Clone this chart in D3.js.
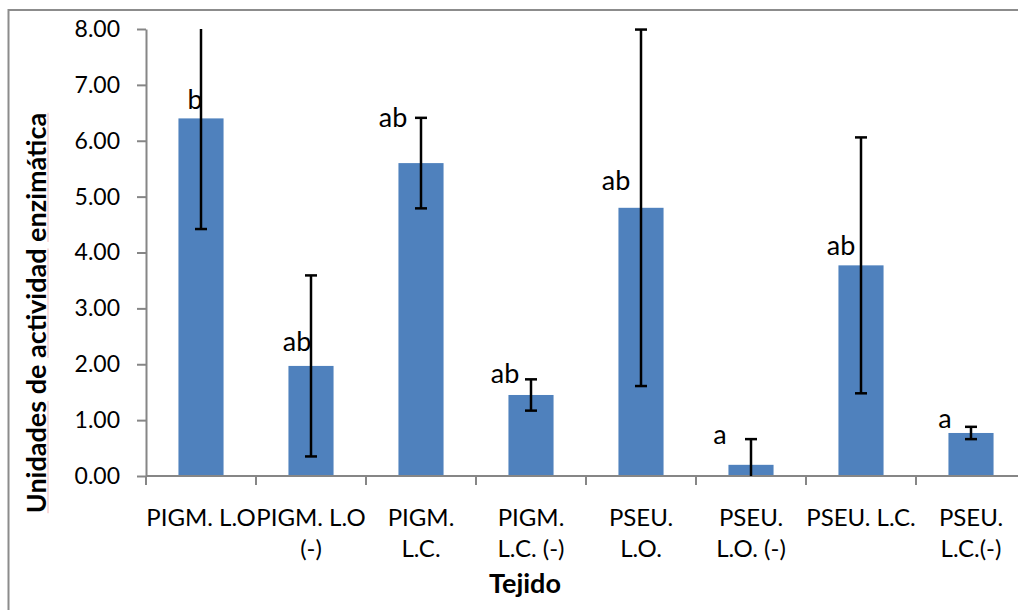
<!DOCTYPE html>
<html>
<head>
<meta charset="utf-8">
<script src="https://cdn.jsdelivr.net/npm/d3@7"></script>
<style>
  html, body { margin: 0; padding: 0; background: #fff; overflow: hidden; }
  svg { display: block; }
  text { font-family: Lato, "Open Sans", sans-serif; fill: #000; }
</style>
</head>
<body>
<div id="chart"></div>
<script>
// Categories (each entry split into its wrapped lines)
const categories = [
  ['PIGM. L.O'],
  ['PIGM. L.O', '(-)'],
  ['PIGM.', 'L.C.'],
  ['PIGM.', 'L.C. (-)'],
  ['PSEU.', 'L.O.'],
  ['PSEU.', 'L.O. (-)'],
  ['PSEU. L.C.'],
  ['PSEU.', 'L.C.(-)'],
];
const means = [6.40, 1.97, 5.60, 1.45, 4.80, 0.20, 3.77, 0.77];
const errors = [1.98, 1.62, 0.81, 0.28, 3.19, 0.46, 2.29, 0.11];
const letters = ['b', 'ab', 'ab', 'ab', 'ab', 'a', 'ab', 'a'];
const yTicks = [0, 1, 2, 3, 4, 5, 6, 7, 8];

// Hand-placed letter labels, pixel nudges from the bar top
const labelNudge = [[-6, -9], [-14, -15], [-28, -36], [-26, -12],
                    [-25, -18], [-31, -21], [-20, -10], [-26, -5]];

const width = 1018;
const height = 610;
const margin = { top: 29, left: 146, bottom: 134 };
const innerWidth = 880; // the plot runs a little past the right edge
const innerHeight = height - margin.top - margin.bottom;
const axisColor = '#868686';

const svg = d3.select('#chart')
  .append('svg')
  .attr('width', width)
  .attr('height', height);

// Chart area border: only its top and left edges are in view
svg.append('path')
  .attr('d', `M8.5,${height} V10 H${width}`)
  .attr('fill', 'none')
  .attr('stroke', '#8c8c8c')
  .attr('stroke-width', 2);

const g = svg.append('g')
  .attr('transform', `translate(${margin.left},${margin.top})`);

const x = d3.scaleBand()
  .domain(d3.range(categories.length))
  .range([0, innerWidth])
  .paddingInner(0.59)
  .paddingOuter(0.295);

const y = d3.scaleLinear()
  .domain([0, 8])
  .range([innerHeight, 0]);

const center = i => x(i) + x.bandwidth() / 2;

// Bars
g.selectAll('rect.bar')
  .data(means)
  .join('rect')
    .attr('class', 'bar')
    .attr('x', (d, i) => x(i))
    .attr('y', d => y(d))
    .attr('width', x.bandwidth())
    .attr('height', d => y(0) - y(d))
    .attr('fill', '#4f81bd');

// Y axis
const yAxis = g.append('g')
  .call(d3.axisLeft(y).tickValues(yTicks).tickFormat(d3.format('.2f'))
    .tickSize(9).tickSizeOuter(0).tickPadding(17));
yAxis.select('.domain').attr('stroke', axisColor).attr('stroke-width', 2);
yAxis.selectAll('.tick line').attr('stroke', axisColor).attr('stroke-width', 2);
yAxis.selectAll('.tick text')
  .attr('font-family', 'Lato')
  .attr('font-size', 23)
  .attr('fill', '#000');

// X axis: line with ticks at the category boundaries
const xAxis = g.append('g').attr('transform', `translate(0,${innerHeight})`);
xAxis.append('line')
  .attr('x1', 0).attr('x2', Math.min(innerWidth, width - margin.left))
  .attr('stroke', axisColor).attr('stroke-width', 2);
xAxis.selectAll('line.tick')
  .data(d3.range(categories.length))
  .join('line')
    .attr('class', 'tick')
    .attr('x1', i => i * x.step()).attr('x2', i => i * x.step())
    .attr('y1', 0).attr('y2', 9)
    .attr('stroke', axisColor).attr('stroke-width', 2);

xAxis.selectAll('text.cat')
  .data(categories)
  .join('text')
    .attr('class', 'cat')
    .attr('font-size', 24)
    .attr('text-anchor', 'middle')
    .attr('y', 50)
  .selectAll('tspan')
    .data((d, i) => d.map(line => ({ line, i })))
    .join('tspan')
      .attr('x', d => center(d.i))
      .attr('dy', (d, j) => j === 0 ? 0 : 31)
      .text(d => d.line);

// Error bars, clipped to the axis range; a cap only where not clipped
const capW = 12;
const errG = g.append('g').attr('stroke', '#000').attr('stroke-width', 2.5);
means.forEach((m, i) => {
  const lo = Math.max(0, m - errors[i]);
  const hi = Math.min(8, m + errors[i]);
  const cx = center(i);
  errG.append('line')
    .attr('x1', cx).attr('x2', cx)
    .attr('y1', y(lo)).attr('y2', y(hi));
  if (m + errors[i] <= 8) {
    errG.append('line')
      .attr('x1', cx - capW / 2).attr('x2', cx + capW / 2)
      .attr('y1', y(hi)).attr('y2', y(hi));
  }
  if (m - errors[i] >= 0) {
    errG.append('line')
      .attr('x1', cx - capW / 2).attr('x2', cx + capW / 2)
      .attr('y1', y(lo)).attr('y2', y(lo));
  }
});

// Significance letters
g.selectAll('text.letter')
  .data(letters)
  .join('text')
    .attr('class', 'letter')
    .attr('font-size', 27)
    .attr('text-anchor', 'middle')
    .attr('x', (d, i) => center(i) + labelNudge[i][0])
    .attr('y', (d, i) => y(means[i]) + labelNudge[i][1])
    .text(d => d);

// Axis titles
svg.append('text')
  .attr('font-size', 27)
  .attr('font-weight', 'bold')
  .attr('text-anchor', 'middle')
  .attr('x', 525)
  .attr('y', 593)
  .text('Tejido');

const titleText = 'Unidades de actividad enzimática';
const yTitle = svg.append('g')
  .attr('transform', 'translate(46,313) rotate(-90)');
const yTitleText = yTitle.append('text')
  .attr('font-size', 27)
  .attr('font-weight', 'bold')
  .attr('text-anchor', 'middle')
  .text(titleText);

// faint spell-check underline seen under the three long words
const node = yTitleText.node();
const start = -node.getComputedTextLength() / 2;
[[0, 8], [12, 9], [22, 10]].forEach(([from, n]) => {
  const x0 = start + node.getSubStringLength(0, from);
  const len = node.getSubStringLength(from, n);
  yTitle.append('line')
    .attr('x1', x0).attr('x2', x0 + len)
    .attr('y1', 2).attr('y2', 2)
    .attr('stroke', '#f2b8b8')
    .attr('stroke-width', 1);
});
</script>
</body>
</html>
